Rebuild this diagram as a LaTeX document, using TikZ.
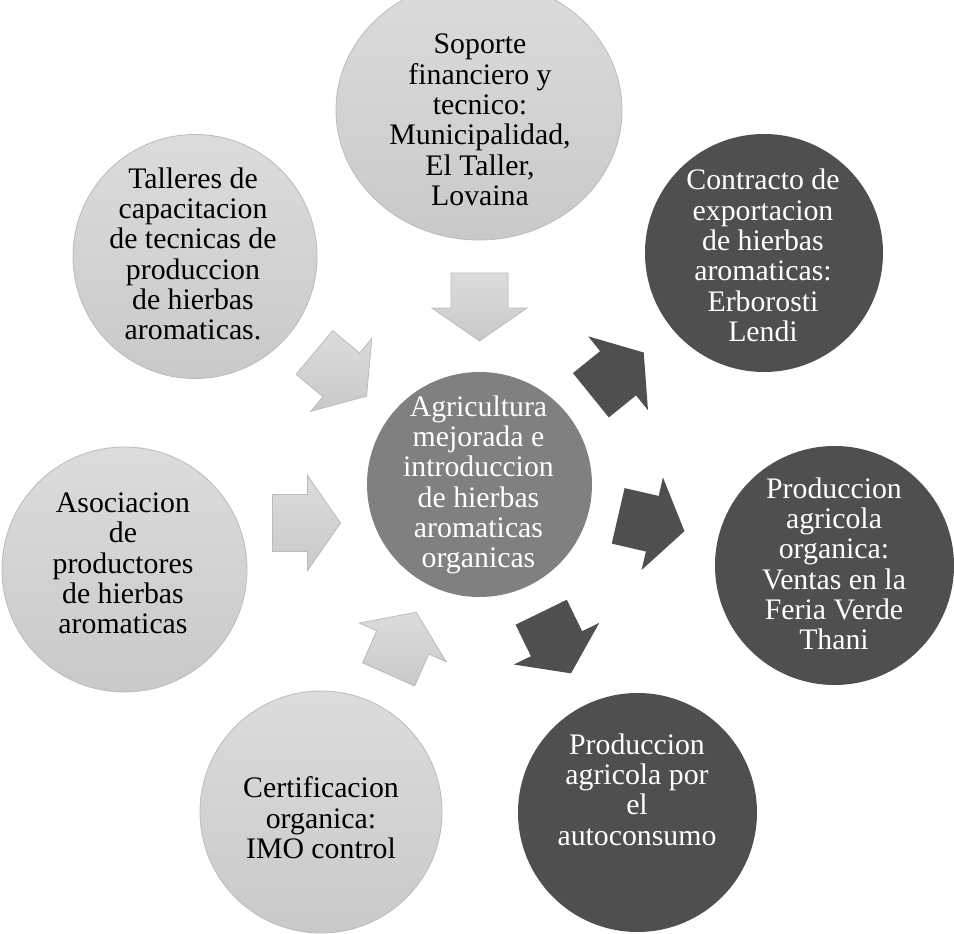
\documentclass[tikz,border=0pt]{standalone}
\usepackage{fontspec}
\setmainfont{Liberation Serif}
\usetikzlibrary{shapes.geometric}
\definecolor{lt}{HTML}{DCDCDC}
\definecolor{lb}{HTML}{C9C9C9}
\definecolor{lineg}{HTML}{BBBBBB}
\definecolor{dk}{HTML}{4F4F4F}
\definecolor{md}{HTML}{808080}
\tikzset{
  lightc/.style={circle, draw=lineg, line width=0.8pt, top color=lt, bottom color=lb, inner sep=0pt},
  darkc/.style={circle, fill=dk, inner sep=0pt},
  centc/.style={circle, fill=md, inner sep=0pt},
  txt/.style={align=center, font=\fontsize{29.8}{30.3}\selectfont, inner sep=0pt, text=black},
  wtxt/.style={txt, text=white},
  larrow/.style={draw=lineg, line width=0.8pt, top color=lt, bottom color=lb},
  darrow/.style={fill=dk},
}
\newcommand\blockarrow[3]{%
  \path[#1, shift={#2}, rotate=#3] (-34,28.5) -- (1,28.5) -- (1,47.5) -- (34,0) -- (1,-47.5) -- (1,-28.5) -- (-34,-28.5) -- cycle;}
\begin{document}
\begin{tikzpicture}[x=1pt,y=-1pt]
\useasboundingbox (0,0) rectangle (954,934);
\fill[white] (0,0) rectangle (954,934);
\clip (0,0) rectangle (954,934);
% circles
\node[lightc, ellipse, minimum width=286pt, minimum height=260pt] (top) at (479,110) {};
\node[lightc, minimum size=244pt] (tl) at (195,256.5) {};
\node[darkc, minimum size=238pt] (tr) at (764,253) {};
\node[darkc, minimum size=239pt] (r) at (834.5,565.5) {};
\node[darkc, minimum size=239pt] (br) at (637.5,812.5) {};
\node[lightc, minimum size=242pt] (bl) at (321,812) {};
\node[lightc, minimum size=245pt] (l) at (124.5,569.5) {};
\node[centc, minimum size=225pt] (c) at (479.5,484.5) {};
% texts
\node[txt] (ttop) at (480,123.5) {\strut Soporte\\financiero y\\tecnico:\\Municipalidad,\\El Taller,\\Lovaina\strut};
\node[txt] (ttl) at (193,258) {\strut Talleres de\\capacitacion\\de tecnicas de\\produccion\\de hierbas\\aromaticas.\strut};
\node[wtxt] (ttr) at (763,259.5) {\strut Contracto de\\exportacion\\de hierbas\\aromaticas:\\Erborosti\\Lendi\strut};
\node[wtxt] (tr2) at (834,568) {\strut Produccion\\agricola\\organica:\\Ventas en la\\Feria Verde\\Thani\strut};
\node[wtxt] (tbr) at (637,793.5) {\strut Produccion\\agricola por\\el\\autoconsumo\strut};
\node[txt] (tbl) at (321,822) {\strut Certificacion\\organica:\\IMO control\strut};
\node[txt] (tl2) at (123,567) {\strut Asociacion\\de\\productores\\de hierbas\\aromaticas\strut};
\node[wtxt] (tc) at (478.5,486) {\strut Agricultura\\mejorada e\\introduccion\\de hierbas\\aromaticas\\organicas\strut};
% arrows
\blockarrow{larrow}{(479.5,307)}{-90}
\blockarrow{larrow}{(340.5,374.3)}{-40}
\blockarrow{larrow}{(306.5,523)}{0}
\blockarrow{larrow}{(402.4,643.3)}{66}
\blockarrow{darrow}{(617.3,373.9)}{39}
\blockarrow{darrow}{(651.3,523.5)}{-13}
\blockarrow{darrow}{(556.1,642.8)}{-64}
\end{tikzpicture}
\end{document}
